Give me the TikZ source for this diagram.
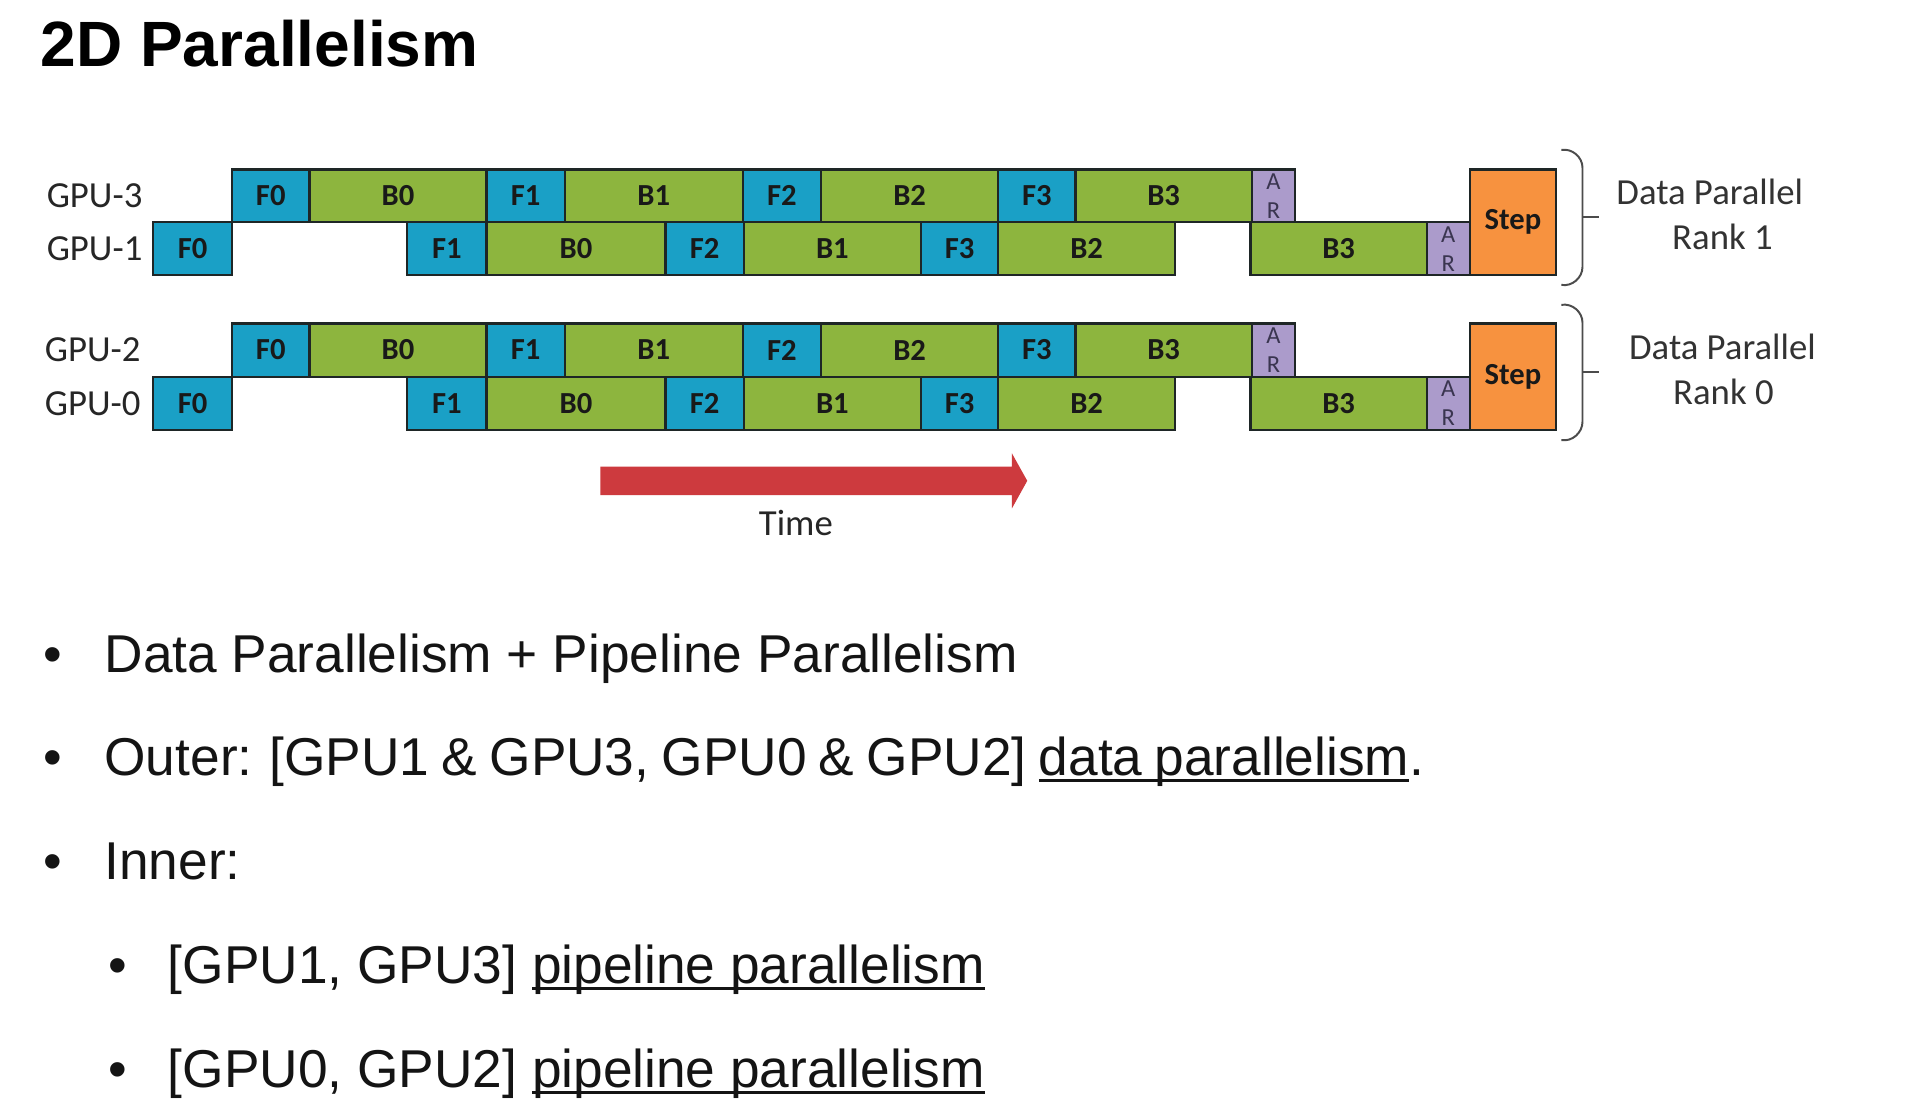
\documentclass[tikz,border=0pt]{standalone}
\usepackage{fontspec}
\setmainfont{Liberation Sans}
\newfontfamily\calfont{Carlito}
\definecolor{fblue}{HTML}{1AA0C6}
\definecolor{bgreen}{HTML}{8DB53E}
\definecolor{arpurple}{HTML}{AB9BCB}
\definecolor{artext}{HTML}{3A3550}
\definecolor{steporange}{HTML}{F7923F}
\definecolor{timered}{HTML}{CD3A3E}
\definecolor{edgecol}{HTML}{1E2626}
\newsavebox\ulbox
\newcommand\myul[1]{\sbox\ulbox{#1}\rlap{\rule[-0.12em]{\wd\ulbox}{0.055em}}\usebox\ulbox}
\newcommand\blk[7]{%
  \pgfmathsetmacro\bw{#4-#3}\pgfmathsetmacro\bh{#6-#5}%
  \pgfmathsetmacro\bx{(#3+#4)/2}\pgfmathsetmacro\by{(#5+#6)/2}%
  \node[#2, minimum width=\bw pt, minimum height=\bh pt] (#1) at (\bx,\by) {#7};}
\tikzset{
 blkbase/.style={draw=edgecol, line width=1.8pt, inner sep=0pt, outer sep=0pt,
   font=\calfont\bfseries\fontsize{25}{28}\selectfont, text=black!90},
 fblk/.style={blkbase, fill=fblue},
 bblk/.style={blkbase, fill=bgreen},
 arblk/.style={blkbase, fill=arpurple, font=\calfont\fontsize{20}{23.5}\selectfont,
   align=center, text=artext},
 stepblk/.style={blkbase, fill=steporange},
 gpulabel/.style={font=\calfont\fontsize{30}{36}\selectfont, text=black!85, inner sep=0pt, anchor=base east},
 dplabel/.style={font=\calfont\fontsize{30}{36}\selectfont, text=black!80, inner sep=0pt, anchor=base},
 bullettext/.style={font=\fontsize{43.5}{50}\selectfont, text=black!92, inner sep=0pt, anchor=base west},
 bulletdot/.style={font=\fontsize{43.5}{50}\selectfont, text=black!92, inner sep=0pt, anchor=base},
 bracketline/.style={draw=black!70, line width=1.6pt},
}
\begin{document}
\begin{tikzpicture}[x=1pt,y=-1pt]
\useasboundingbox (0,0) rectangle (1560,904.1);
\fill[white] (0,0) rectangle (1560,904.1);
\node[font=\bfseries\fontsize{52.3}{60}\selectfont, inner sep=0pt, anchor=base west] (title) at (33,54.7) {2D Parallelism};
\foreach \g/\ya/\yb/\yc in {u/138.4/181.6/224.8, l/264.2/307.6/351}{
  \blk{\g tF0}{fblk}{189.6}{252.7}{\ya}{\yb}{F0}
  \blk{\g tB0}{bblk}{252.7}{397.4}{\ya}{\yb}{B0}
  \blk{\g tF1}{fblk}{397.4}{461.2}{\ya}{\yb}{F1}
  \blk{\g tB1}{bblk}{461.2}{606.7}{\ya}{\yb}{B1}
  \blk{\g tF2}{fblk}{606.7}{670.6}{\ya}{\yb}{F2}
  \blk{\g tB2}{bblk}{670.6}{815.3}{\ya}{\yb}{B2}
  \blk{\g tF3}{fblk}{815.3}{878.4}{\ya}{\yb}{F3}
  \blk{\g tB3}{bblk}{878.4}{1022.4}{\ya}{\yb}{B3}
  \blk{\g tAR}{arblk}{1022.4}{1057.7}{\ya}{\yb}{A\\R}
  \blk{\g bF0}{fblk}{125.1}{189.6}{\yb}{\yc}{F0}
  \blk{\g bF1}{fblk}{332.5}{397.4}{\yb}{\yc}{F1}
  \blk{\g bB0}{bblk}{397.4}{543.6}{\yb}{\yc}{B0}
  \blk{\g bF2}{fblk}{543.6}{607.5}{\yb}{\yc}{F2}
  \blk{\g bB1}{bblk}{607.5}{752.2}{\yb}{\yc}{B1}
  \blk{\g bF3}{fblk}{752.2}{815.3}{\yb}{\yc}{F3}
  \blk{\g bB2}{bblk}{815.3}{959.7}{\yb}{\yc}{B2}
  \blk{\g bB3}{bblk}{1021.3}{1165.3}{\yb}{\yc}{B3}
  \blk{\g bAR}{arblk}{1165.3}{1200.4}{\yb}{\yc}{A\\R}
  \blk{\g Step}{stepblk}{1200.4}{1271}{\ya}{\yc}{Step}
}
\node[gpulabel] (gpu3) at (116.5,169.7) {GPU-3};
\node[gpulabel] (gpu1) at (116.5,212.9) {GPU-1};
\node[gpulabel] (gpu2) at (115,295.6) {GPU-2};
\node[gpulabel] (gpu0) at (115,339) {GPU-0};
% brackets
\draw[bracketline] (1275.3,122.5) to[out=10,in=90] (1292.5,137) -- (1292.5,218) to[out=-90,in=-10] (1275.3,232.7);
\draw[bracketline] (1292.5,177.5) -- (1306,177.5);
\draw[bracketline] (1275.3,249) to[out=10,in=90] (1292.5,263.5) -- (1292.5,344.5) to[out=-90,in=-10] (1275.3,359.4);
\draw[bracketline] (1292.5,304.1) -- (1306,304.1);
\node[dplabel] (dp1a) at (1396.4,167.4) {Data Parallel};
\node[dplabel] (dp1b) at (1406.8,204) {Rank 1};
\node[dplabel] (dp0a) at (1406.8,294) {Data Parallel};
\node[dplabel] (dp0b) at (1407.6,330.5) {Rank 0};
% time arrow
\fill[timered] (490.3,381.2) -- (826.5,381.2) -- (826.5,370.3) -- (839,392.7) -- (826.5,415.2) -- (826.5,404.3) -- (490.3,404.3) -- cycle;
\node[dplabel, text=black!85] (time) at (650,437) {Time};
% bullets
\node[bulletdot] (d1) at (43.5,549.1) {•};
\node[bullettext] (t1) at (85.2,549.1) {Data Parallelism + Pipeline Parallelism};
\node[bulletdot] (d2) at (43.5,633.5) {•};
\node[bullettext] (t2) at (85.2,633.5) {\spaceskip=0.23em Outer: [GPU1 \& GPU3, GPU0 \& GPU2] \myul{data parallelism}.};
\node[bulletdot] (d3) at (43.5,718) {•};
\node[bullettext] (t3) at (85.2,718) {Inner:};
\node[bulletdot] (d4) at (96,803) {•};
\node[bullettext] (t4) at (137,803) {[GPU1, GPU3] \myul{pipeline parallelism}};
\node[bulletdot] (d5) at (96,888) {•};
\node[bullettext] (t5) at (137,888) {[GPU0, GPU2] \myul{pipeline parallelism}};
\end{tikzpicture}
\end{document}
